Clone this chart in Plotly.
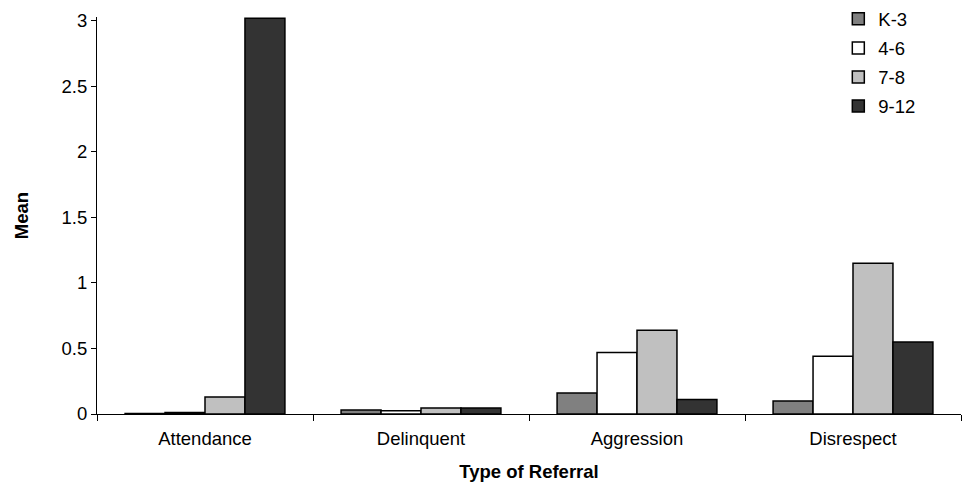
import plotly.graph_objects as go

categories = ["Attendance", "Delinquent", "Aggression", "Disrespect"]
series_names = ["K-3", "4-6", "7-8", "9-12"]
k3 = [0.004, 0.03, 0.16, 0.10]
g46 = [0.012, 0.025, 0.47, 0.44]
g78 = [0.13, 0.045, 0.64, 1.15]
g912 = [3.02, 0.045, 0.11, 0.55]
colors = ["#808080", "#ffffff", "#c0c0c0", "#333333"]

fig = go.Figure()
for name, vals, col in zip(series_names, [k3, g46, g78, g912], colors):
    fig.add_trace(go.Bar(
        x=categories, y=vals, name=name, legendgroup=name,
        marker=dict(color=col, line=dict(color="#000000", width=1.5)),
    ))

fig.update_layout(
    width=964, height=492,
    margin=dict(l=97, r=3, t=17, b=78, autoexpand=False),
    paper_bgcolor="white", plot_bgcolor="white",
    barmode="group", bargap=0.26, bargroupgap=0,
    font=dict(family="Liberation Sans, Arial", size=18.5, color="#000000"),
    legend=dict(x=0.858, y=1.042, xanchor="left", yanchor="top",
                font=dict(size=18.5), tracegroupgap=2, itemwidth=30,
                bgcolor="rgba(0,0,0,0)"),
    xaxis=dict(
        title=dict(text="<b>Type of Referral</b>", font=dict(size=18.5), standoff=16),
        showline=True, linecolor="#000000", linewidth=1,
        ticks="outside", tickson="boundaries", ticklen=6, tickcolor="#000000",
        ticklabelstandoff=8, automargin=False,
        showgrid=False,
    ),
    yaxis=dict(
        title=dict(text="<b>Mean</b>", font=dict(size=18.5), standoff=28),
        range=[0, 3.03], tickvals=[0, 0.5, 1, 1.5, 2, 2.5, 3],
        ticktext=["0", "0.5", "1", "1.5", "2", "2.5", "3"],
        showline=True, linecolor="#000000", linewidth=1,
        ticks="outside", ticklen=5, tickcolor="#000000",
        automargin=False,
        showgrid=False, zeroline=False,
    ),
)

fig.write_html("out.html")
